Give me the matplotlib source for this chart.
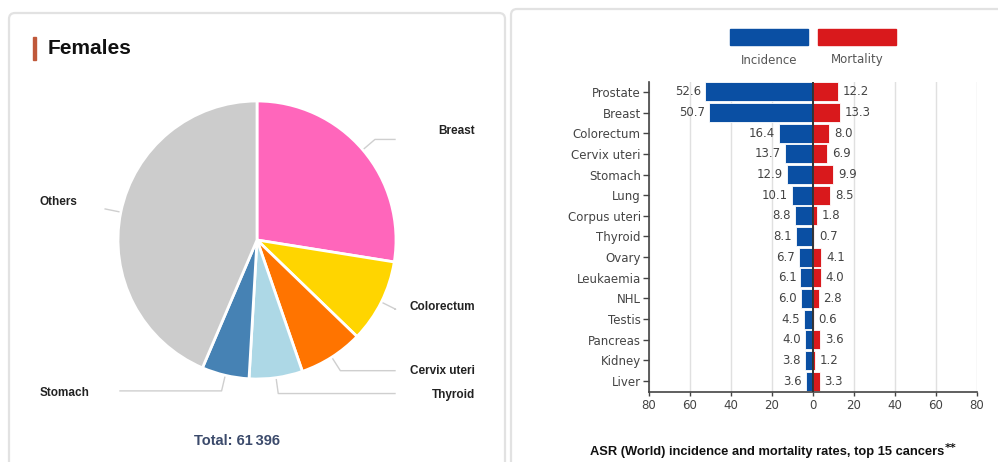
import matplotlib.pyplot as plt
import numpy as np
from matplotlib.patches import FancyBboxPatch, Rectangle

# Female cases by site (total 61 396)
pie_sites = ['Breast', 'Colorectum', 'Cervix uteri', 'Thyroid', 'Stomach', 'Others']
pie_counts = [16900, 5950, 4600, 3810, 3380, 26756]
pie_colors = ['#ff66bb', '#ffd500', '#ff7400', '#add8e6', '#4682b4', '#cccccc']

# ASR (World) rates, top 15 cancers
cancers = ['Prostate', 'Breast', 'Colorectum', 'Cervix uteri', 'Stomach', 'Lung',
           'Corpus uteri', 'Thyroid', 'Ovary', 'Leukaemia', 'NHL', 'Testis',
           'Pancreas', 'Kidney', 'Liver']
incidence = [52.6, 50.7, 16.4, 13.7, 12.9, 10.1, 8.8, 8.1, 6.7, 6.1, 6.0, 4.5, 4.0, 3.8, 3.6]
mortality = [12.2, 13.3, 8.0, 6.9, 9.9, 8.5, 1.8, 0.7, 4.1, 4.0, 2.8, 0.6, 3.6, 1.2, 3.3]
x_ticks = [-80, -60, -40, -20, 0, 20, 40, 60, 80]

W, H = 998, 462
BLUE = '#0a4fa3'
RED = '#d9191c'

fig = plt.figure(figsize=(W / 100, H / 100), dpi=100)

# background axes in pixel units (y measured from the top)
bg = fig.add_axes([0, 0, 1, 1])
bg.set_xlim(0, W)
bg.set_ylim(H, 0)
bg.axis('off')

# panel frames
bg.add_patch(FancyBboxPatch((9, 13), 496, 470, boxstyle='round,pad=0,rounding_size=6',
                            fc='white', ec='#e2e2e2', lw=1.6))
bg.add_patch(FancyBboxPatch((511, 9), 500, 470, boxstyle='round,pad=0,rounding_size=6',
                            fc='white', ec='#e2e2e2', lw=1.6))

# title with accent bar
bg.add_patch(Rectangle((33, 37), 3, 23, color='#c0583a'))
bg.text(48, 49, 'Females', fontsize=15, fontweight='bold', family='Liberation Sans',
        color='#111111', va='center', ha='left')

# pie chart, drawn with flipped y so wedges go clockwise from the top
cx, cy, r = 257, 240, 139
wedges, _ = bg.pie(pie_counts, colors=pie_colors, startangle=-90, counterclock=True,
                   center=(cx, cy), radius=r,
                   wedgeprops=dict(edgecolor='white', linewidth=2))
bg.set_xlim(0, W)
bg.set_ylim(H, 0)
bg.set_aspect('auto')
bg.axis('off')

# label placement: (text x, text y, ha, end x of leader)
label_pos = {
    'Breast': (475, 131, 'right', 395),
    'Colorectum': (475, 307, 'right', 395),
    'Cervix uteri': (475, 371, 'right', 395),
    'Thyroid': (475, 395, 'right', 395),
    'Stomach': (40, 393, 'left', 120),
    'Others': (40, 202, 'left', None),
}
for w, name in zip(wedges, pie_sites):
    mid = np.deg2rad((w.theta1 + w.theta2) / 2)
    dx, dy = np.cos(mid), np.sin(mid)
    p0 = (cx + (r + 2) * dx, cy + (r + 2) * dy)
    p1 = (cx + (r + 16) * dx, cy + (r + 16) * dy)
    tx, ty, ha, xend = label_pos[name]
    xs, ys = [p0[0], p1[0]], [p0[1], p1[1]]
    if xend is not None:
        xs.append(xend)
        ys.append(p1[1])
    bg.plot(xs, ys, color='#cfcfcf', lw=1)
    bg.text(tx, ty, name, fontsize=8.5, fontweight='bold', family='Liberation Sans',
            color='#222222', ha=ha, va='center')

bg.text(237, 441, 'Total: 61\u2009396', fontsize=10.5, fontweight='bold',
        family='Liberation Sans', color='#3b4a6b', ha='center', va='center')

# legend swatches
bg.add_patch(Rectangle((730, 29), 78, 16, color=BLUE))
bg.add_patch(Rectangle((818, 29), 78, 16, color=RED))
bg.text(769, 60, 'Incidence', fontsize=8.5, color='#555555', ha='center', va='center')
bg.text(857, 60, 'Mortality', fontsize=8.5, color='#555555', ha='center', va='center')

# chart caption with bold footnote marker
bg.text(944, 452, 'ASR (World) incidence and mortality rates, top 15 cancers',
        fontsize=9.3, fontweight='bold', family='Liberation Sans', color='#111111',
        ha='right', va='center')
bg.text(945, 448, '**', fontsize=8, fontweight='bold', family='DejaVu Sans',
        color='#111111', ha='left', va='center')

# butterfly bar chart
ax = fig.add_axes([649 / W, 1 - 392 / H, 328 / W, 310 / H])
y = np.arange(len(cancers))
inc = np.array(incidence)
mort = np.array(mortality)
ax.barh(y, -inc, height=0.92, color=BLUE, edgecolor='white', linewidth=0.6, zorder=2)
ax.barh(y, mort, height=0.92, color=RED, edgecolor='white', linewidth=0.6, zorder=2)
ax.axvline(0, color='#333333', lw=1.4, zorder=3)

for yi, a, b in zip(y, inc, mort):
    ax.text(-a - 2.0, yi, f'{a:.1f}', fontsize=8.5, color='#444444', ha='right', va='center')
    ax.text(b + 2.2, yi, f'{b:.1f}', fontsize=8.5, color='#444444', ha='left', va='center')

ax.set_xlim(-80, 80)
ax.set_ylim(len(cancers) - 0.47, -0.48)
ax.set_yticks(y)
ax.set_yticklabels(cancers, fontsize=8.5, color='#444444')
ax.set_xticks(x_ticks)
ax.set_xticklabels([str(abs(t)) for t in x_ticks], fontsize=8.5, color='#444444')
ax.grid(axis='x', color='#e0e0e0', lw=1, zorder=0)
ax.set_axisbelow(True)
for side in ['top', 'right']:
    ax.spines[side].set_visible(False)
for side in ['left', 'bottom']:
    ax.spines[side].set_color('#444444')
    ax.spines[side].set_linewidth(1.2)
ax.tick_params(axis='y', length=4, width=1, color='#444444', pad=2)
ax.tick_params(axis='x', length=3, width=1, color='#444444', pad=2)
ax.patch.set_alpha(0)

fig.savefig('out.png', dpi=100)
